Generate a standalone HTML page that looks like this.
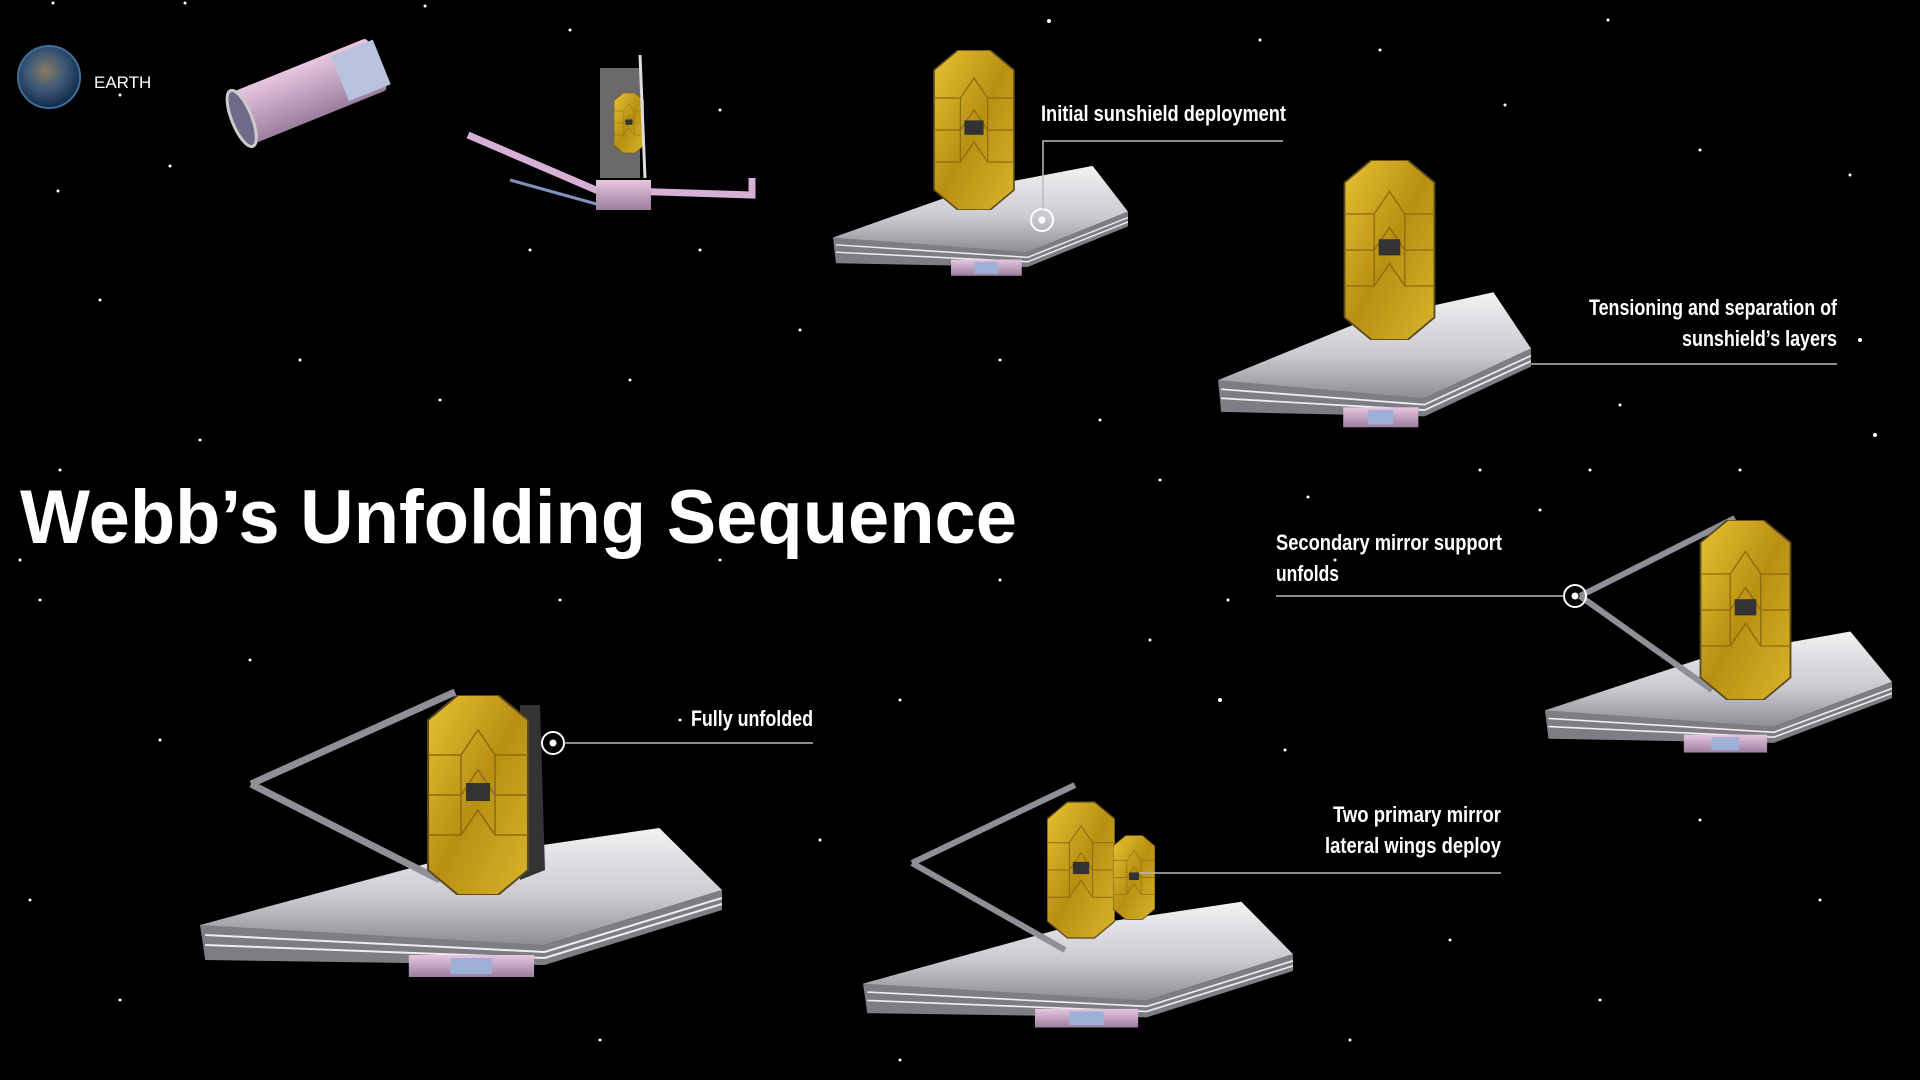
<!DOCTYPE html>
<html><head><meta charset="utf-8"><style>
html,body{margin:0;padding:0;background:#000;}
svg{display:block}
.lbl{font-family:"Liberation Sans Narrow","Liberation Sans",sans-serif;font-weight:bold;fill:#fff;font-size:22px}
</style></head><body>
<svg width="1920" height="1080" viewBox="0 0 1920 1080" xmlns="http://www.w3.org/2000/svg">
<defs>
<linearGradient id="gold" x1="0" y1="0" x2="1" y2="1"><stop offset="0" stop-color="#e8c233"/><stop offset="0.5" stop-color="#b98f12"/><stop offset="1" stop-color="#d9b52a"/></linearGradient>
<linearGradient id="silver" x1="0" y1="0" x2="0" y2="1"><stop offset="0" stop-color="#f2f2f4"/><stop offset="0.6" stop-color="#c9c9cf"/><stop offset="1" stop-color="#8d8d95"/></linearGradient>
<linearGradient id="pink" x1="0" y1="0" x2="0" y2="1"><stop offset="0" stop-color="#e8c6e0"/><stop offset="1" stop-color="#9a7f9e"/></linearGradient>
<radialGradient id="earth" cx="0.45" cy="0.4" r="0.6"><stop offset="0" stop-color="#8a7a60"/><stop offset="0.5" stop-color="#3e5a78"/><stop offset="1" stop-color="#0f2a48"/></radialGradient>
<symbol id="mir" viewBox="0 0 100 200">
<polygon points="30,0 70,0 100,25 100,175 70,200 30,200 0,175 0,25" fill="url(#gold)" stroke="#5a4a20" stroke-width="2"/>
<g stroke="#8a6b10" stroke-width="1.5" fill="none">
<path d="M0,60 L33,60 L50,35 L67,60 L100,60 M0,100 L33,100 L50,75 L67,100 L100,100 M0,140 L33,140 L50,115 L67,140 L100,140 M33,60 L33,140 M67,60 L67,140"/></g>
<rect x="38" y="88" width="24" height="18" fill="#333"/>
</symbol>
<symbol id="shield" viewBox="0 0 500 160" preserveAspectRatio="none">
<polygon points="0,105 230,40 440,8 500,70 330,125 10,125" fill="url(#silver)"/>
<polygon points="0,105 330,125 500,70 500,90 330,145 5,140" fill="#7d7d84"/>
<path d="M5,115 L330,132 L500,78 M5,125 L330,138 L500,84" stroke="#eee" stroke-width="2" fill="none"/>
<rect x="200" y="135" width="120" height="22" fill="url(#pink)"/>
<rect x="240" y="138" width="40" height="16" fill="#9fb0d8"/>
</symbol>
</defs>
<rect width="1920" height="1080" fill="#000"/>
<g fill="#fff">
<circle cx="53" cy="3" r="1.5"/><circle cx="185" cy="3" r="1.5"/><circle cx="307" cy="83" r="1.5"/><circle cx="120" cy="95" r="1.5"/><circle cx="58" cy="191" r="1.5"/><circle cx="170" cy="166" r="1.5"/><circle cx="310" cy="82" r="1.5"/><circle cx="425" cy="6" r="1.5"/><circle cx="1049" cy="21" r="2"/><circle cx="1260" cy="40" r="1.5"/><circle cx="1505" cy="105" r="1.5"/><circle cx="1700" cy="150" r="1.5"/><circle cx="1850" cy="175" r="1.5"/><circle cx="1380" cy="50" r="1.5"/><circle cx="1608" cy="20" r="1.5"/><circle cx="1860" cy="340" r="2"/><circle cx="1875" cy="435" r="2"/><circle cx="1740" cy="470" r="1.5"/><circle cx="1620" cy="405" r="1.5"/><circle cx="1308" cy="497" r="1.5"/><circle cx="1335" cy="560" r="1.5"/><circle cx="1228" cy="600" r="1.5"/><circle cx="1220" cy="700" r="2"/><circle cx="1285" cy="750" r="1.5"/><circle cx="1590" cy="470" r="1.5"/><circle cx="1880" cy="700" r="1.5"/><circle cx="1820" cy="900" r="1.5"/><circle cx="1600" cy="1000" r="1.5"/><circle cx="1700" cy="820" r="1.5"/><circle cx="1450" cy="940" r="1.5"/><circle cx="1150" cy="640" r="1.5"/><circle cx="1000" cy="580" r="1.5"/><circle cx="900" cy="700" r="1.5"/><circle cx="700" cy="540" r="1.5"/><circle cx="560" cy="600" r="1.5"/><circle cx="160" cy="740" r="1.5"/><circle cx="40" cy="600" r="1.5"/><circle cx="20" cy="560" r="1.5"/><circle cx="30" cy="900" r="1.5"/><circle cx="120" cy="1000" r="1.5"/><circle cx="600" cy="1040" r="1.5"/><circle cx="720" cy="560" r="1.5"/><circle cx="800" cy="330" r="1.5"/><circle cx="630" cy="380" r="1.5"/><circle cx="440" cy="400" r="1.5"/><circle cx="300" cy="360" r="1.5"/><circle cx="100" cy="300" r="1.5"/><circle cx="200" cy="440" r="1.5"/><circle cx="530" cy="250" r="1.5"/><circle cx="700" cy="250" r="1.5"/><circle cx="1100" cy="420" r="1.5"/><circle cx="1000" cy="360" r="1.5"/><circle cx="1160" cy="480" r="1.5"/><circle cx="1540" cy="510" r="1.5"/><circle cx="1650" cy="730" r="1.5"/><circle cx="820" cy="840" r="1.5"/><circle cx="680" cy="720" r="1.5"/><circle cx="1350" cy="1040" r="1.5"/><circle cx="900" cy="1060" r="1.5"/><circle cx="250" cy="660" r="1.5"/><circle cx="60" cy="470" r="1.5"/><circle cx="1480" cy="470" r="1.5"/><circle cx="720" cy="110" r="1.5"/><circle cx="570" cy="30" r="1.5"/>
</g>
<!-- Earth -->
<circle cx="49" cy="77" r="31" fill="url(#earth)" stroke="#3d6f9a" stroke-width="2"/>
<text x="94" y="88" font-family="Liberation Sans, sans-serif" font-size="17" fill="#fff">EARTH</text>
<!-- 1 folded -->
<g transform="translate(238,120) rotate(-22)">
<rect x="0" y="-28" width="150" height="56" fill="url(#pink)" rx="4"/>
<rect x="110" y="-24" width="45" height="48" fill="#b9c2dc"/>
<ellipse cx="4" cy="0" rx="10" ry="30" fill="#6e6a8a" stroke="#ccc" stroke-width="3"/>
</g>
<!-- 2 -->
<g>
<polyline points="468,135 596,190 752,195 752,178" stroke="#d7b0d6" stroke-width="7" fill="none"/>
<line x1="510" y1="180" x2="600" y2="205" stroke="#8090c0" stroke-width="3"/>
<rect x="596" y="180" width="55" height="30" fill="url(#pink)"/>
<rect x="600" y="68" width="40" height="110" fill="#6a6a6a"/>
<use href="#mir" x="614" y="78" width="30" height="90"/>
<line x1="640" y1="55" x2="645" y2="178" stroke="#ddd" stroke-width="3"/>
</g>
<!-- 3 -->
<use href="#shield" x="833" y="160" width="295" height="118"/>
<use href="#mir" x="930" y="50" width="88" height="160"/>
<circle cx="1042" cy="220" r="11" fill="none" stroke="#fff" stroke-width="2"/><circle cx="1042" cy="220" r="3.5" fill="#fff"/>
<!-- 4 -->
<use href="#shield" x="1218" y="285" width="313" height="145"/>
<use href="#mir" x="1342" y="160" width="95" height="180"/>
<!-- 5 -->
<use href="#shield" x="1545" y="625" width="347" height="130"/>
<g stroke="#8f8f98" stroke-width="6"><line x1="1580" y1="596" x2="1735" y2="518"/><line x1="1580" y1="596" x2="1712" y2="690"/></g>
<use href="#mir" x="1698" y="520" width="95" height="180"/>
<circle cx="1575" cy="596" r="11" fill="none" stroke="#fff" stroke-width="2"/><circle cx="1575" cy="596" r="3.5" fill="#fff"/>
<!-- 6 bottom left -->
<use href="#shield" x="200" y="820" width="522" height="160"/>
<g stroke="#8f8f98" stroke-width="7"><line x1="251" y1="784" x2="455" y2="692"/><line x1="251" y1="784" x2="440" y2="880"/></g>
<polygon points="520,705 540,705 545,870 520,880" fill="#333"/>
<use href="#mir" x="422" y="695" width="112" height="200"/>
<circle cx="553" cy="743" r="11" fill="none" stroke="#fff" stroke-width="2"/><circle cx="553" cy="743" r="3.5" fill="#fff"/>
<!-- 7 bottom middle -->
<use href="#shield" x="863" y="895" width="430" height="135"/>
<g stroke="#8f8f98" stroke-width="6"><line x1="912" y1="863" x2="1075" y2="785"/><line x1="912" y1="863" x2="1065" y2="950"/></g>
<use href="#mir" x="1047" y="785" width="68" height="170"/>
<use href="#mir" x="1113" y="815" width="42" height="125"/>
<!-- title -->
<text x="20" y="543" font-family="Liberation Sans, sans-serif" font-weight="bold" font-size="76" fill="#fff" textLength="997" lengthAdjust="spacingAndGlyphs">Webb’s Unfolding Sequence</text>
<!-- labels & leaders -->
<g stroke="#bbb" stroke-width="1.5" fill="none">
<polyline points="1283,141 1043,141 1043,209"/>
<line x1="1531" y1="364" x2="1837" y2="364"/>
<line x1="1276" y1="596" x2="1564" y2="596"/>
<line x1="564" y1="743" x2="813" y2="743"/>
<line x1="1139" y1="873" x2="1501" y2="873"/>
</g>
<text class="lbl" x="1041" y="121" textLength="245" lengthAdjust="spacingAndGlyphs">Initial sunshield deployment</text>
<text class="lbl" x="1837" y="315" text-anchor="end" textLength="248" lengthAdjust="spacingAndGlyphs">Tensioning and separation of</text>
<text class="lbl" x="1837" y="346" text-anchor="end" textLength="155" lengthAdjust="spacingAndGlyphs">sunshield’s layers</text>
<text class="lbl" x="1276" y="550" textLength="226" lengthAdjust="spacingAndGlyphs">Secondary mirror support</text>
<text class="lbl" x="1276" y="581" textLength="63" lengthAdjust="spacingAndGlyphs">unfolds</text>
<text class="lbl" x="813" y="726" text-anchor="end" textLength="122" lengthAdjust="spacingAndGlyphs">Fully unfolded</text>
<text class="lbl" x="1501" y="822" text-anchor="end" textLength="168" lengthAdjust="spacingAndGlyphs">Two primary mirror</text>
<text class="lbl" x="1501" y="853" text-anchor="end" textLength="176" lengthAdjust="spacingAndGlyphs">lateral wings deploy</text>
</svg>
</body></html>
